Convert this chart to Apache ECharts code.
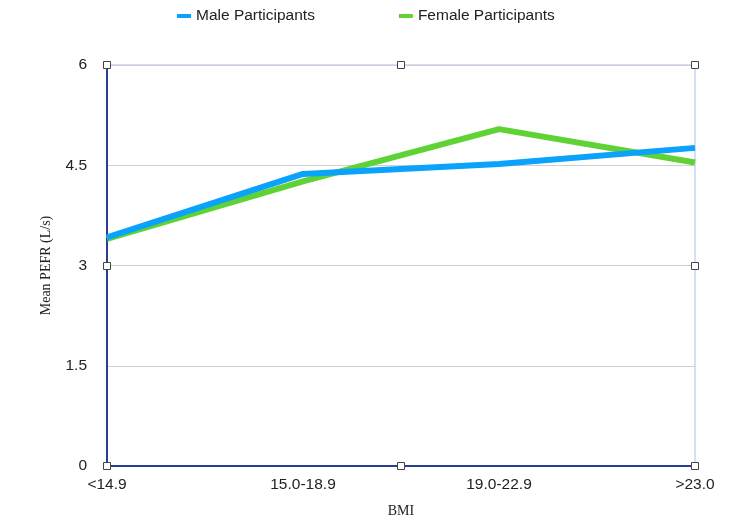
<!DOCTYPE html>
<html>
<head>
<meta charset="utf-8">
<script src="https://cdn.jsdelivr.net/npm/echarts@6/dist/echarts.min.js"></script>
<style>
  html, body { margin: 0; padding: 0; background: #fff; }
  #chart { width: 750px; height: 527px; }
</style>
</head>
<body>
<div id="chart"></div>
<script>
// 数据
const bmiGroups = ["<14.9", "15.0-18.9", "19.0-22.9", ">23.0"];
const maleValues = [3.42, 4.37, 4.52, 4.76];
const femaleValues = [3.40, 4.26, 5.04, 4.54];
const yTicks = { min: 0, max: 6, interval: 1.5 };

const chart = echarts.init(document.getElementById("chart"));

const option = {
  animation: false,
  color: ["#0aa2fb", "#5fd335"],
  legend: {
    top: 3,
    left: 172,
    itemGap: 84,
    itemWidth: 14,
    itemHeight: 4,
    icon: "rect",
    textStyle: { fontFamily: "Liberation Sans", fontSize: 15.5, color: "#222" },
    data: ["Male Participants", "Female Participants"],
  },
  grid: {
    left: 107,
    right: 55,
    top: 65,
    bottom: 61,
    show: true,
    borderColor: "#a9c1f2",
    borderWidth: 1,
  },
  xAxis: {
    type: "category",
    data: bmiGroups,
    boundaryGap: false,
    name: "BMI",
    nameLocation: "middle",
    nameGap: 38,
    nameTextStyle: { fontFamily: "Liberation Serif", fontSize: 14, color: "#222" },
    axisLine: { lineStyle: { color: "#26408f", width: 2 } },
    axisTick: { show: false },
    axisLabel: { margin: 11, fontFamily: "Liberation Sans", fontSize: 15.5, color: "#222" },
    splitLine: { show: false },
  },
  yAxis: {
    type: "value",
    min: yTicks.min,
    max: yTicks.max,
    interval: yTicks.interval,
    name: "Mean PEFR (L/s)",
    nameLocation: "middle",
    nameGap: 54,
    nameTextStyle: { fontFamily: "Liberation Serif", fontSize: 14, color: "#222" },
    axisLine: { show: true, lineStyle: { color: "#26408f", width: 2 } },
    axisTick: { show: false },
    axisLabel: { margin: 20, fontFamily: "Liberation Sans", fontSize: 15.5, color: "#222" },
    splitLine: { lineStyle: { color: "#cfcfcf", width: 1 } },
  },
  series: [
    {
      name: "Male Participants",
      type: "line",
      data: maleValues,
      symbol: "none",
      z: 3,
      lineStyle: { width: 6 },
    },
    {
      name: "Female Participants",
      type: "line",
      data: femaleValues,
      symbol: "none",
      z: 2,
      lineStyle: { width: 6 },
    },
  ],
};

chart.setOption(option);

// 选中状态的小方块（绘图区边框的角点和中点）
const gridRect = chart.getModel().getComponent("grid").coordinateSystem.getRect();
const xs = [gridRect.x, gridRect.x + gridRect.width / 2, gridRect.x + gridRect.width];
const ys = [gridRect.y, gridRect.y + gridRect.height / 2, gridRect.y + gridRect.height];
const handles = [];
ys.forEach((y, j) => {
  xs.forEach((x, i) => {
    if (i === 1 && j === 1) return;
    handles.push({
      type: "rect",
      shape: { x: Math.round(x) - 3.5, y: Math.round(y) - 3.5, width: 7, height: 7 },
      style: { fill: "#fff", stroke: "#444", lineWidth: 1 },
      z: 100,
    });
  });
});
chart.setOption({ graphic: handles });
</script>
</body>
</html>
